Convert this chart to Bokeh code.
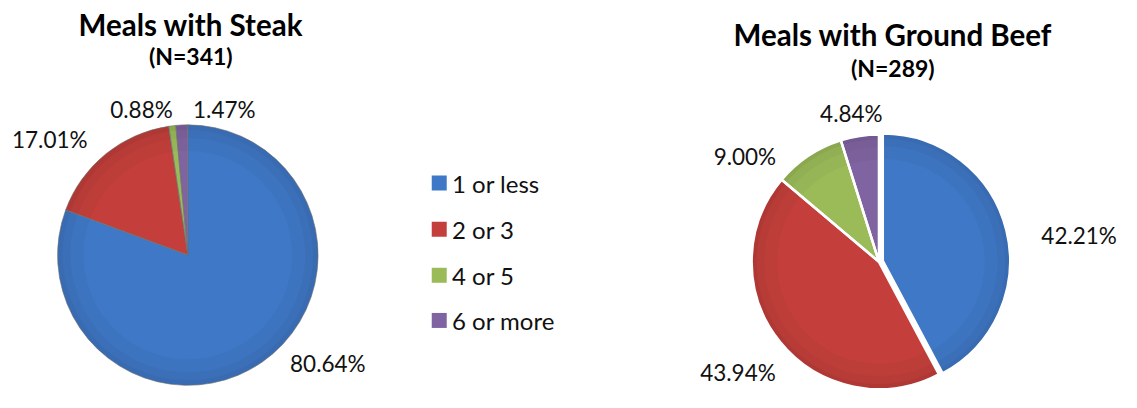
import math
from bokeh.plotting import figure
from bokeh.models import Range1d, ColumnDataSource
from bokeh.core.properties import value
from bokeh.embed import file_html
from bokeh.resources import INLINE

categories = ["1 or less", "2 or 3", "4 or 5", "6 or more"]
steak_values = [80.64, 17.01, 0.88, 1.47]
beef_values = [42.21, 43.94, 9.00, 4.84]
steak_title = "Meals with Steak"
steak_n = "(N=341)"
beef_title = "Meals with Ground Beef"
beef_n = "(N=289)"
colors = ["#3F78C6", "#C43F3B", "#9BBB59", "#8064A2"]

W, H = 1121, 392
REF_W, REF_H = 1137, 408
p = figure(width=W, height=H, x_range=Range1d(0, REF_W), y_range=Range1d(0, REF_H),
           output_backend="svg", toolbar_location=None, min_border=0)
p.axis.visible = False
p.grid.visible = False
p.outline_line_color = None
p.background_fill_color = "white"

FONT = "Lato"
SC = 0.972  # pixel scale from reference to figure

def Y(ref_y):
    return REF_H - ref_y

def pie(vals, cx, cy, r, line_color, line_width, explode):
    total = sum(vals)
    cum = 0.0
    xs, ys, st, en = [], [], [], []
    for i, v in enumerate(vals):
        a0 = math.pi / 2 - 2 * math.pi * cum / total
        a1 = math.pi / 2 - 2 * math.pi * (cum + v) / total
        mid = (a0 + a1) / 2
        e = explode[i]
        xs.append(cx + e * math.cos(mid))
        ys.append(cy + e * math.sin(mid))
        st.append(a0)
        en.append(a1)
        cum += v
    src = ColumnDataSource(dict(x=xs, y=ys, s=st, e=en, c=colors))
    rs = r * SC
    p.wedge(x="x", y="y", radius=rs, radius_units="screen", start_angle="s", end_angle="e",
            direction="clock", fill_color="c", line_color=None, source=src)
    # soft shading toward the rim
    for f, a in [(0.80, 0.03), (0.90, 0.03), (0.96, 0.04)]:
        p.annular_wedge(x="x", y="y", inner_radius=rs * f, outer_radius=rs, inner_radius_units="screen",
                        outer_radius_units="screen", start_angle="s", end_angle="e", direction="clock",
                        fill_color="black", fill_alpha=a, line_color=None, source=src)
    p.wedge(x="x", y="y", radius=rs, radius_units="screen", start_angle="s", end_angle="e",
            direction="clock", fill_color=None, line_color=line_color, line_width=line_width, source=src)

pie(steak_values, 190, Y(265), 134, "#6f6f6f", 0.6, [0, 0, 0, 0])
pie(beef_values, 891, Y(272), 131, "white", 2.5, [4, 0, 0, 0])

def fmt(v):
    return "%.2f%%" % v

steak_label_pos = [(332, 378), (50, 145), (143, 113), (227, 113)]
beef_label_pos = [(1094, 245), (748, 387), (755, 162), (863, 118)]

lx = [q[0] for q in steak_label_pos] + [q[0] for q in beef_label_pos]
ly = [Y(q[1]) for q in steak_label_pos] + [Y(q[1]) for q in beef_label_pos]
lt = [fmt(v) for v in steak_values] + [fmt(v) for v in beef_values]
p.text(x=lx, y=ly, text=lt, text_font=value(FONT), text_font_size="22.5px",
       text_align="center", text_baseline="middle", text_color="#111111")

# titles
p.text(x=[193, 905], y=[Y(25), Y(35)], text=[steak_title, beef_title], text_font=value(FONT),
       text_font_size="29.5px", text_font_style="bold", text_align="center", text_baseline="middle",
       text_color="black")
p.text(x=[193, 905], y=[Y(58), Y(70)], text=[steak_n, beef_n], text_font=value(FONT),
       text_font_size="23px", text_font_style="bold", text_align="center", text_baseline="middle",
       text_color="black")

# legend
leg_y = [Y(190), Y(238), Y(286), Y(333)]
p.rect(x=[445] * 4, y=leg_y, width=15, height=15, width_units="screen", height_units="screen",
       fill_color=colors, line_color=None)
p.text(x=[458] * 4, y=leg_y, text=categories, text_font=value(FONT), text_font_size="24px",
       text_align="left", text_baseline="middle", text_color="#111111")

open("out.html", "w").write(file_html(p, INLINE))
